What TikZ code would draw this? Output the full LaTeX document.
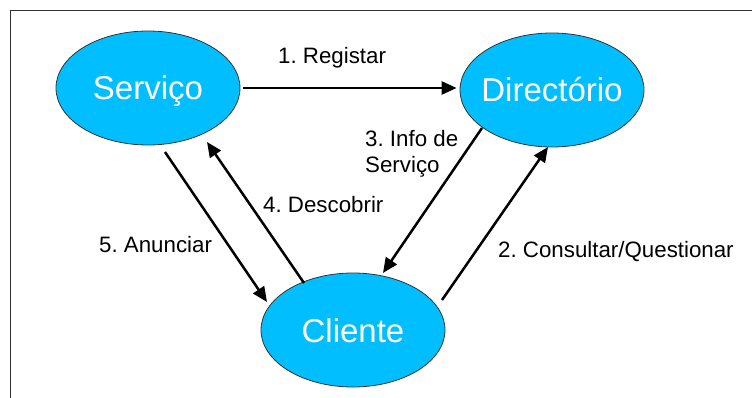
\documentclass[tikz,border=0pt]{standalone}
\usepackage{fontspec}
\setmainfont{Liberation Sans}
\usetikzlibrary{shapes.geometric,arrows.meta}
\definecolor{cyanfill}{RGB}{0,190,255}
\frenchspacing
\begin{document}
\begin{tikzpicture}[x=1pt,y=-1pt,
  bubble/.style={ellipse, draw=black!80, line width=0.8pt, fill=cyanfill,
    minimum width=184pt, minimum height=114pt, inner sep=0pt},
  btxt/.style={text=white, font=\fontsize{33}{33}\selectfont, inner sep=0pt, anchor=base},
  ltxt/.style={font=\fontsize{22.3}{26}\selectfont, inner sep=0pt, anchor=base west, align=left},
  arr/.style={line width=2.5pt, -{Triangle[length=15pt,width=13pt]}},
  frameline/.style={draw=black!80, line width=1pt}]
\useasboundingbox (0,0) rectangle (752,398);
\draw[frameline] (10,398) -- (10,11) -- (752,11);

\node[bubble] (serv) at (148,88) {};
\node[bubble] (dir) at (552,90) {};
\node[bubble] (cli) at (353,330) {};

\node[btxt] (servt) at (148,100) {Serviço};
\node[btxt] (dirt) at (552,102) {Directório};
\node[btxt] (clit) at (353,342) {Cliente};

\draw[arr] ([xshift=3pt]serv.east) -- ([xshift=-3pt]serv.east -| dir.west);
\draw[arr] ([shift={(89,-30)}]cli.center) -- ([shift={(-4,57)}]dir.center);
\draw[arr] ([shift={(-70,38)}]dir.center) -- ([shift={(30,-57)}]cli.center);
\draw[arr] ([shift={(-49,-47)}]cli.center) -- ([shift={(59,54)}]serv.center);
\draw[arr] ([shift={(17,64)}]serv.center) -- ([shift={(-86,-28)}]cli.center);

\node[ltxt] (l1) at (278,64) {1. Registar};
\node[ltxt] (l2) at (498,257) {2. Consultar/Questionar};
\node[ltxt] (l3) at (365,173) {3. Info de\\Serviço};
\node[ltxt] (l4) at (263,213) {4. Descobrir};
\node[ltxt] (l5) at (99,252) {5. Anunciar};
\end{tikzpicture}
\end{document}
